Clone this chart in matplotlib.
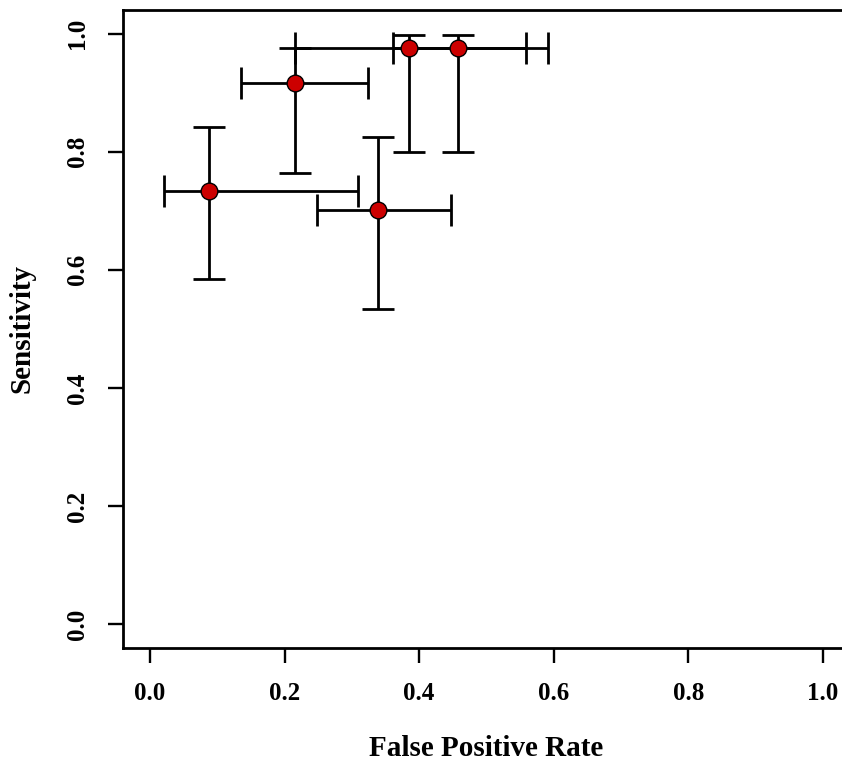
import matplotlib
matplotlib.use("Agg")
import matplotlib.pyplot as plt

plt.rcParams['font.family'] = ['Liberation Serif', 'DejaVu Serif']
plt.rcParams['font.weight'] = 'bold'

# study estimates (false positive rate, sensitivity) with intervals
fpr = [0.088, 0.215, 0.385, 0.457, 0.339]
fpr_lo = [0.021, 0.136, 0.215, 0.361, 0.248]
fpr_hi = [0.309, 0.324, 0.558, 0.592, 0.447]
sens = [0.733, 0.916, 0.975, 0.975, 0.701]
sens_lo = [0.585, 0.764, 0.800, 0.800, 0.534]
sens_hi = [0.841, 0.975, 0.997, 0.997, 0.825]
ticks = [0.0, 0.2, 0.4, 0.6, 0.8, 1.0]

fig = plt.figure(figsize=(8.42, 7.65), dpi=100)
ax = fig.add_axes([0.14608, 0.15346, 0.86342, 0.83346])

xerr = [[f - lo for f, lo in zip(fpr, fpr_lo)], [hi - f for f, hi in zip(fpr, fpr_hi)]]
yerr = [[s - lo for s, lo in zip(sens, sens_lo)], [hi - s for s, hi in zip(sens, sens_hi)]]
ax.errorbar(fpr, sens, xerr=xerr, yerr=yerr, fmt='none', ecolor='black',
            elinewidth=2, capsize=11.5, capthick=2, zorder=2)
ax.plot(fpr, sens, 'o', color='#cc0000', markeredgecolor='black',
        markeredgewidth=1, markersize=12, zorder=3)

ax.set_xlim(-0.04, 1.04)
ax.set_ylim(-0.04, 1.04)
ax.set_xticks(ticks)
ax.set_yticks(ticks)
ax.set_xticklabels([f"{t:.1f}" for t in ticks], fontsize=18, fontweight='bold')
ax.set_yticklabels([f"{t:.1f}" for t in ticks], fontsize=18, fontweight='bold',
                   rotation=90, va='center')
ax.tick_params(axis='both', direction='out', length=11, width=1.7)
ax.tick_params(axis='x', pad=14)
ax.tick_params(axis='y', pad=13.5)
for sp in ax.spines.values():
    sp.set_linewidth(2)

ax.set_xlabel("False Positive Rate", fontsize=21, fontweight='bold', va='center')
ax.xaxis.set_label_coords(0.5, -0.1575)
ax.set_ylabel("Sensitivity", fontsize=21, fontweight='bold', va='center')
ax.yaxis.set_label_coords(-0.1393, 0.5)

fig.savefig("out.png", dpi=100)
